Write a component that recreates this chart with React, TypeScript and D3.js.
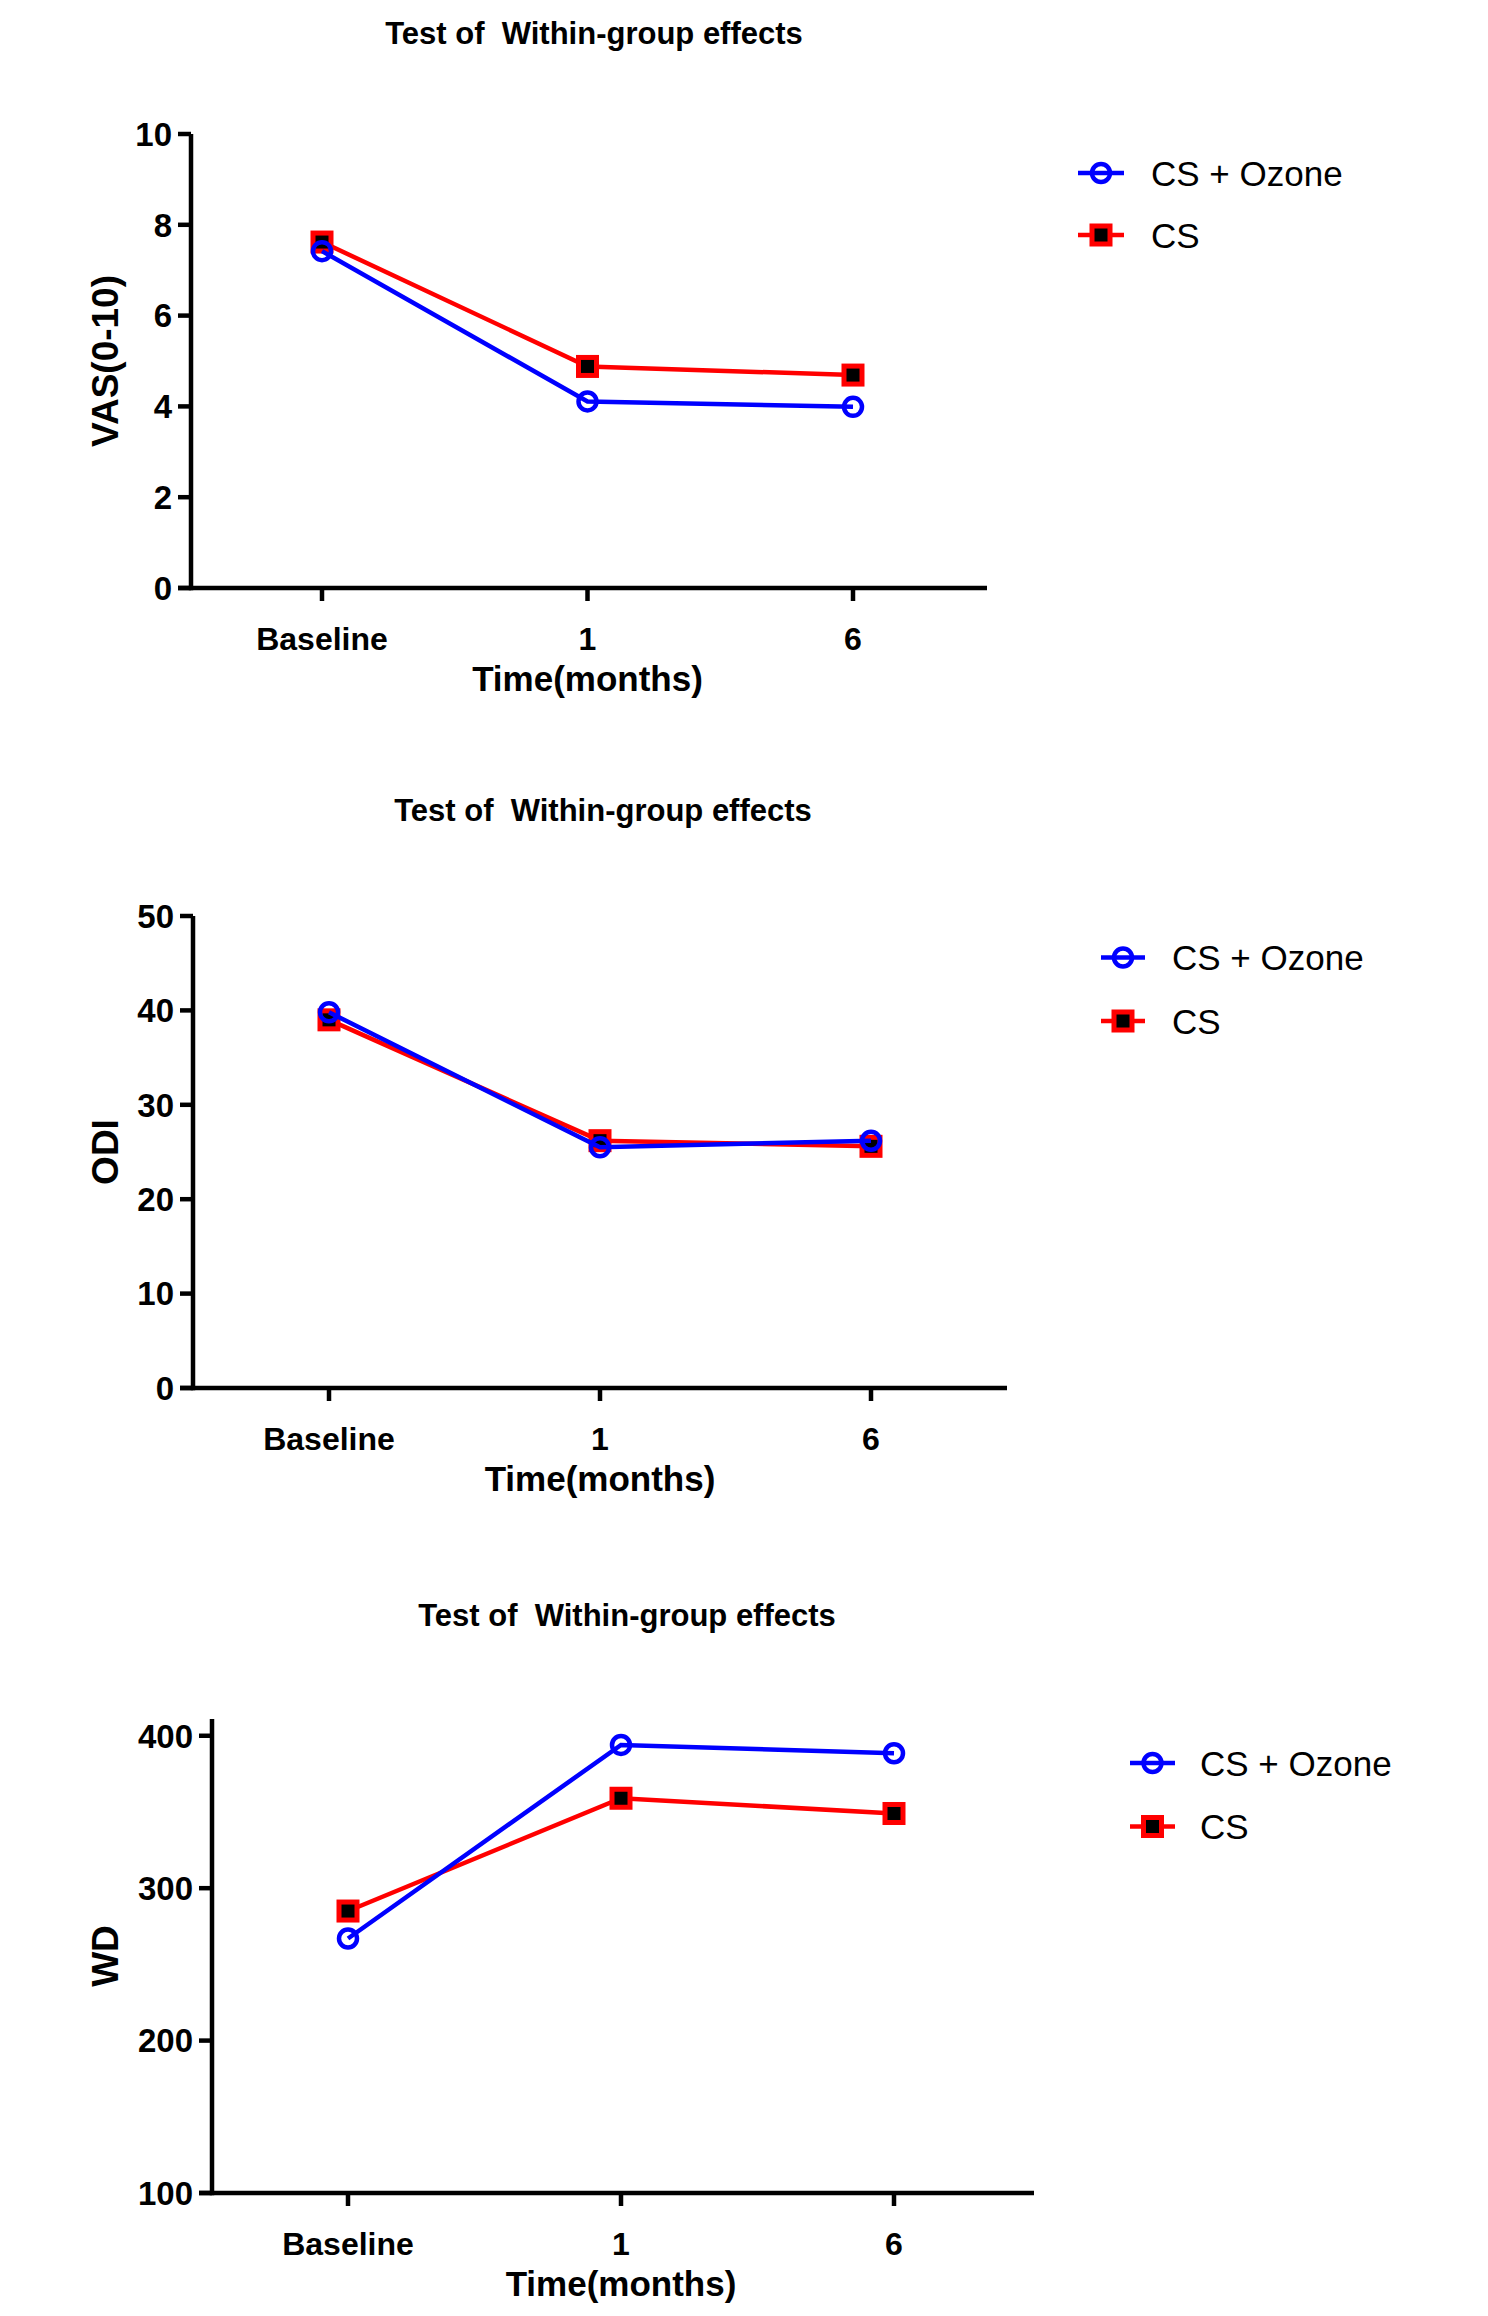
import React from "react";
import * as d3 from "d3";

// ---------- Data ----------
const categories = ["Baseline", "1", "6"];
const seriesNames = ["CS + Ozone", "CS"];

const vasOzone = [7.42, 4.11, 3.99];
const vasCS = [7.62, 4.88, 4.69];
const vasTicks = [0, 2, 4, 6, 8, 10];

const odiOzone = [39.8, 25.5, 26.2];
const odiCS = [39.0, 26.2, 25.6];
const odiTicks = [0, 10, 20, 30, 40, 50];

const wdOzone = [267, 394, 388.5];
const wdCS = [285, 359, 349];
const wdTicks = [100, 200, 300, 400];

const chartTitle = "Test of  Within-group effects";
const xTitle = "Time(months)";

// ---------- Layout ----------
const BLUE = "#0000FF";
const RED = "#FF0000";
const FONT = "'Liberation Sans', Arial, Helvetica, sans-serif";

type PanelCfg = {
  yLabel: string;
  ozone: number[];
  cs: number[];
  ticks: number[];
  domain: [number, number];
  yRange: [number, number];
  yAxisX: number;
  xCat: [number, number];
  xRight: number;
  titleX: number;
  titleY: number;
  legX1: number;
  legX2: number;
  legY: [number, number];
  legTextX: number;
};

const panels: PanelCfg[] = [
  {
    yLabel: "VAS(0-10)",
    ozone: vasOzone,
    cs: vasCS,
    ticks: vasTicks,
    domain: [0, 10],
    yRange: [588, 134],
    yAxisX: 191,
    xCat: [322, 853],
    xRight: 987,
    titleX: 594,
    titleY: 33,
    legX1: 1078,
    legX2: 1124,
    legY: [173, 235],
    legTextX: 1151,
  },
  {
    yLabel: "ODI",
    ozone: odiOzone,
    cs: odiCS,
    ticks: odiTicks,
    domain: [0, 50],
    yRange: [1388, 916],
    yAxisX: 193,
    xCat: [329, 871],
    xRight: 1007,
    titleX: 603,
    titleY: 810,
    legX1: 1101,
    legX2: 1145,
    legY: [957.5, 1021],
    legTextX: 1172,
  },
  {
    yLabel: "WD",
    ozone: wdOzone,
    cs: wdCS,
    ticks: wdTicks,
    domain: [100, 411],
    yRange: [2193, 1719],
    yAxisX: 212,
    xCat: [348, 894],
    xRight: 1034,
    titleX: 627,
    titleY: 1615,
    legX1: 1130,
    legX2: 1175,
    legY: [1763, 1826.5],
    legTextX: 1200,
  },
];

const AXIS_W = 4.5;
const LINE_W = 4.5;
const TICK_LEN = 13;

function CircleMarker({ x, y }: { x: number; y: number }) {
  return <circle cx={x} cy={y} r={9} fill="none" stroke={BLUE} strokeWidth={4.5} />;
}
function SquareMarker({ x, y }: { x: number; y: number }) {
  return <rect x={x - 9} y={y - 9} width={18} height={18} fill="#000" stroke={RED} strokeWidth={5} />;
}

function Panel({ p }: { p: PanelCfg }) {
  const x = d3.scalePoint<string>().domain(categories).range(p.xCat).padding(0);
  const y = d3.scaleLinear().domain(p.domain).range(p.yRange);
  const yBottom = p.yRange[0];
  const yTop = p.yRange[1];
  const line = d3
    .line<number>()
    .x((_, i) => x(categories[i]) as number)
    .y((d) => y(d));
  const leftX = p.yAxisX - TICK_LEN;
  const midX = x(categories[1]) as number;
  const yCenter = (yTop + yBottom) / 2;

  return (
    <g>
      {/* title */}
      <text
        x={p.titleX}
        y={p.titleY}
        dy="0.35em"
        textAnchor="middle"
        fontFamily={FONT}
        fontWeight="bold"
        fontSize={31}
        fill="#000"
        style={{ whiteSpace: "pre" }}
      >
        {chartTitle}
      </text>

      {/* y axis */}
      <line x1={p.yAxisX} x2={p.yAxisX} y1={yTop} y2={yBottom + AXIS_W / 2} stroke="#000" strokeWidth={AXIS_W} />
      {p.ticks.map((t) => (
        <g key={"yt" + t}>
          <line x1={leftX} x2={p.yAxisX} y1={y(t)} y2={y(t)} stroke="#000" strokeWidth={AXIS_W} />
          <text x={leftX - 6} y={y(t)} dy="0.36em" textAnchor="end" fontFamily={FONT} fontWeight="bold" fontSize={33} fill="#000">
            {t}
          </text>
        </g>
      ))}

      {/* x axis */}
      <line x1={leftX} x2={p.xRight} y1={yBottom} y2={yBottom} stroke="#000" strokeWidth={AXIS_W} />
      {categories.map((c) => (
        <g key={"xt" + c}>
          <line x1={x(c)} x2={x(c)} y1={yBottom} y2={yBottom + TICK_LEN} stroke="#000" strokeWidth={AXIS_W} />
          <text x={x(c)} y={yBottom + 50} dy="0.36em" textAnchor="middle" fontFamily={FONT} fontWeight="bold" fontSize={32} fill="#000">
            {c}
          </text>
        </g>
      ))}
      <text x={midX} y={yBottom + 90} dy="0.36em" textAnchor="middle" fontFamily={FONT} fontWeight="bold" fontSize={35} fill="#000">
        {xTitle}
      </text>

      {/* y label */}
      <text
        transform={`translate(105,${yCenter}) rotate(-90)`}
        dy="0.36em"
        textAnchor="middle"
        fontFamily={FONT}
        fontWeight="bold"
        fontSize={37}
        fill="#000"
      >
        {p.yLabel}
      </text>

      {/* series: CS first (red), then CS + Ozone (blue) on top */}
      <path d={line(p.cs) || ""} fill="none" stroke={RED} strokeWidth={LINE_W} />
      {p.cs.map((v, i) => (
        <SquareMarker key={"cs" + i} x={x(categories[i]) as number} y={y(v)} />
      ))}
      <path d={line(p.ozone) || ""} fill="none" stroke={BLUE} strokeWidth={LINE_W} />
      {p.ozone.map((v, i) => (
        <CircleMarker key={"oz" + i} x={x(categories[i]) as number} y={y(v)} />
      ))}

      {/* legend */}
      <line x1={p.legX1} x2={p.legX2} y1={p.legY[0]} y2={p.legY[0]} stroke={BLUE} strokeWidth={LINE_W} />
      <CircleMarker x={(p.legX1 + p.legX2) / 2} y={p.legY[0]} />
      <text x={p.legTextX} y={p.legY[0]} dy="0.36em" fontFamily={FONT} fontSize={35} fill="#000">
        {seriesNames[0]}
      </text>
      <line x1={p.legX1} x2={p.legX2} y1={p.legY[1]} y2={p.legY[1]} stroke={RED} strokeWidth={LINE_W} />
      <SquareMarker x={(p.legX1 + p.legX2) / 2} y={p.legY[1]} />
      <text x={p.legTextX} y={p.legY[1]} dy="0.36em" fontFamily={FONT} fontSize={35} fill="#000">
        {seriesNames[1]}
      </text>
    </g>
  );
}

export default function App() {
  return (
    <svg
      width={1488}
      height={2316}
      viewBox="0 0 1488 2316"
      style={{ position: "absolute", left: 0, top: 0, background: "#fff" }}
    >
      <rect x={0} y={0} width={1488} height={2316} fill="#fff" />
      {panels.map((p, i) => (
        <Panel key={i} p={p} />
      ))}
    </svg>
  );
}
